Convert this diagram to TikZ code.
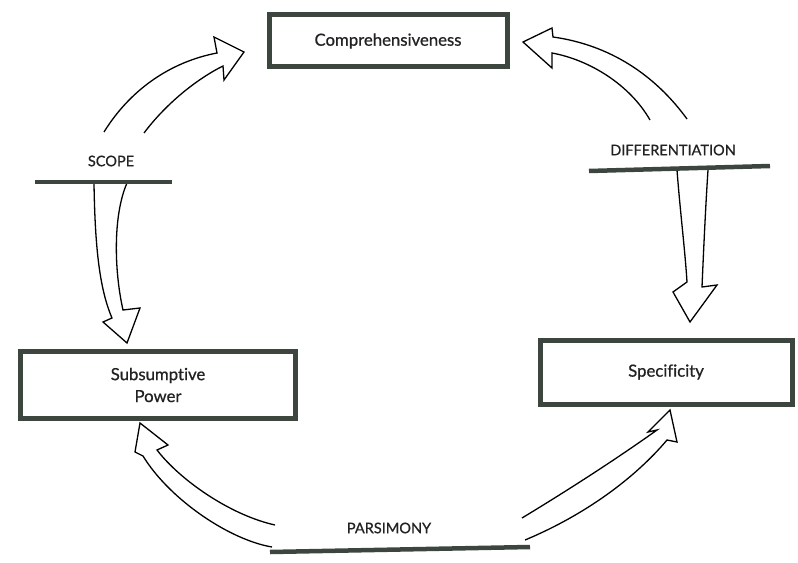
\documentclass[tikz,border=0pt]{standalone}
\usepackage{fontspec}
\setmainfont{Lato}[FakeBold=0.7, Ligatures=NoCommon]
\definecolor{boxc}{HTML}{3C463F}
\definecolor{inkc}{HTML}{222222}
\begin{document}
\begin{tikzpicture}[x=1bp,y=-1bp,
  box/.style={draw=boxc, line width=5bp, fill=white, inner sep=0pt, align=center,
    font=\fontsize{16.8}{22}\selectfont, text=inkc},
  bar/.style={draw=boxc, line width=4.5bp},
  lab/.style={font=\fontsize{14.6}{16}\selectfont, text=inkc, inner sep=0pt},
  hollow/.style={draw=black, line width=1.3bp, line join=miter}]
\useasboundingbox (0,0) rectangle (798,563);
\fill[white] (0,0) rectangle (798,563);

% boxes
\node[box, minimum width=238bp, minimum height=52bp] (comp) at (388,41) {Comprehensiveness};
\node[box, minimum width=275bp, minimum height=67bp] (subs) at (158,385) {Subsumptive\\Power};
\node[box, minimum width=252bp, minimum height=64bp] (spec) at (666,372) {Specificity};

% hollow arrows
% scope -> comprehensiveness
\draw[hollow] (104,132) .. controls (130,90) and (170,62) .. (217,53) -- (214,37) -- (244,52)
  -- (224,80) -- (223,66) .. controls (195,80) and (165,105) .. (144,133);
% scope -> subsumptive power
\draw[hollow] (94,183) .. controls (95,250) and (100,290) .. (112,318) -- (103,322) -- (127,343)
  -- (140,308) -- (123,310) .. controls (114,270) and (113,215) .. (127,183);
% parsimony -> subsumptive power
\draw[hollow] (272,547) .. controls (230,540) and (170,500) .. (143,456) -- (135,452) -- (140,423)
  -- (168,445) -- (157,450) .. controls (180,480) and (230,515) .. (275,525);
% parsimony -> specificity
\draw[hollow] (522,518) .. controls (565,492) and (615,460) .. (657,430) -- (648,432) -- (670,410)
  -- (677,442) -- (667,440) .. controls (635,478) and (585,515) .. (525,540);
% differentiation -> comprehensiveness
\draw[hollow] (687,119) .. controls (655,75) and (610,45) .. (553,37) -- (552,28) -- (523,42)
  -- (552,68) -- (552,53) .. controls (590,60) and (630,85) .. (650,120);
% differentiation -> specificity
\draw[hollow] (677,170) .. controls (680,210) and (685,250) .. (687,282) -- (673,292) -- (690,322)
  -- (717,285) -- (702,287) .. controls (704,240) and (706,200) .. (708,170);

% bars
\coordinate (scL) at (35,182);  \coordinate (scR) at (172,182);
\coordinate (dfL) at (589,171); \coordinate (dfR) at (770,166);
\coordinate (paL) at (270,552); \coordinate (paR) at (530,547);
\draw[bar] (scL) -- (scR);
\draw[bar] (dfL) -- (dfR);
\draw[bar] (paL) -- (paR);

% labels
\node[lab] (scope) at (111,161) {SCOPE};
\node[lab] (diff) at (673,150) {DIFFERENTIATION};
\node[lab] (pars) at (389,528) {PARSIMONY};
\end{tikzpicture}
\end{document}
